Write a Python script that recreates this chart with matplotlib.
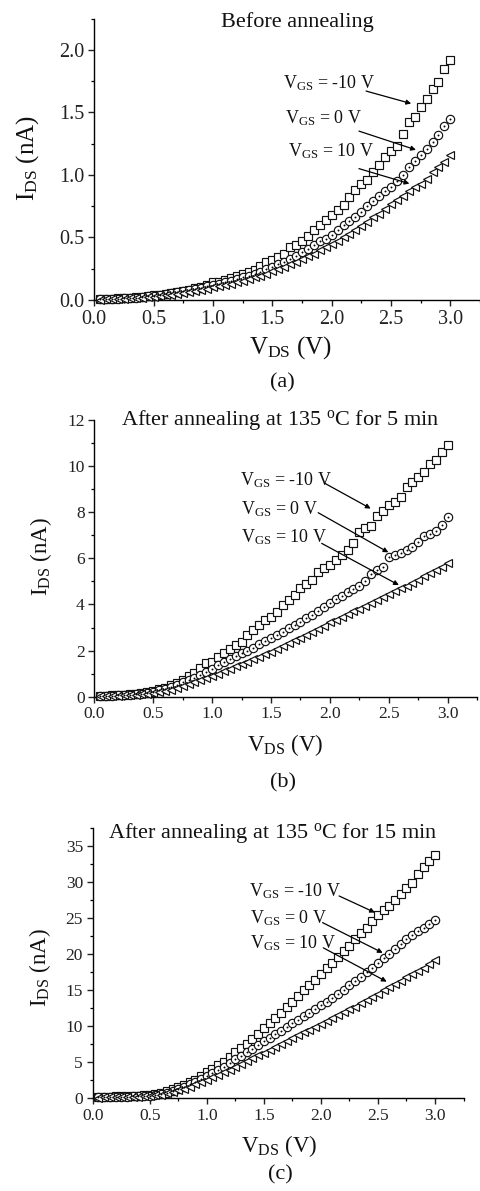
import matplotlib
matplotlib.use("Agg")
import matplotlib.pyplot as plt
from matplotlib.ticker import MultipleLocator, FormatStrFormatter

plt.rcParams['font.family'] = ['Liberation Serif', 'DejaVu Serif']
plt.rcParams['mathtext.fontset'] = 'custom'
plt.rcParams['mathtext.rm'] = 'Liberation Serif'
plt.rcParams['mathtext.it'] = 'Liberation Serif:italic'
plt.rcParams['mathtext.bf'] = 'Liberation Serif:bold'

# ---------------- data ----------------
vds = [0.05, 0.10, 0.15, 0.20, 0.25, 0.30, 0.35, 0.40, 0.45, 0.50,
       0.55, 0.60, 0.65, 0.70, 0.75, 0.80, 0.85, 0.90, 0.95, 1.00,
       1.05, 1.10, 1.15, 1.20, 1.25, 1.30, 1.35, 1.40, 1.45, 1.50,
       1.55, 1.60, 1.65, 1.70, 1.75, 1.80, 1.85, 1.90, 1.95, 2.00,
       2.05, 2.10, 2.15, 2.20, 2.25, 2.30, 2.35, 2.40, 2.45, 2.50,
       2.55, 2.60, 2.65, 2.70, 2.75, 2.80, 2.85, 2.90, 2.95, 3.00]

# (a) before annealing
a_m10 = [0.005, 0.008, 0.010, 0.012, 0.015, 0.018, 0.022, 0.026, 0.031, 0.036,
         0.042, 0.048, 0.055, 0.063, 0.072, 0.082, 0.093, 0.105, 0.118, 0.140,
         0.145, 0.160, 0.175, 0.195, 0.210, 0.225, 0.240, 0.270, 0.305, 0.320,
         0.340, 0.370, 0.420, 0.440, 0.470, 0.510, 0.560, 0.600, 0.640, 0.680,
         0.720, 0.760, 0.820, 0.880, 0.930, 0.960, 1.020, 1.080, 1.140, 1.190,
         1.230, 1.330, 1.420, 1.460, 1.540, 1.610, 1.690, 1.740, 1.850, 1.920]
a_0 = [0.004, 0.006, 0.008, 0.010, 0.012, 0.015, 0.019, 0.023, 0.028, 0.033,
       0.039, 0.045, 0.052, 0.060, 0.068, 0.077, 0.087, 0.097, 0.108, 0.120,
       0.130, 0.140, 0.155, 0.170, 0.180, 0.195, 0.210, 0.225, 0.245, 0.265,
       0.285, 0.305, 0.330, 0.355, 0.380, 0.405, 0.440, 0.470, 0.490, 0.520,
       0.560, 0.600, 0.630, 0.660, 0.700, 0.750, 0.790, 0.830, 0.870, 0.900,
       0.950, 1.000, 1.060, 1.110, 1.160, 1.210, 1.260, 1.320, 1.390, 1.450]
a_p10 = [0.003, 0.005, 0.007, 0.009, 0.011, 0.013, 0.016, 0.019, 0.023, 0.027,
         0.032, 0.037, 0.043, 0.049, 0.056, 0.064, 0.072, 0.081, 0.090, 0.100,
         0.110, 0.120, 0.130, 0.140, 0.155, 0.170, 0.180, 0.195, 0.210, 0.230,
         0.250, 0.265, 0.285, 0.305, 0.330, 0.350, 0.370, 0.400, 0.420, 0.450,
         0.470, 0.500, 0.530, 0.560, 0.590, 0.620, 0.660, 0.690, 0.730, 0.770,
         0.800, 0.830, 0.870, 0.900, 0.930, 0.970, 1.020, 1.060, 1.100, 1.160]

# (b) after annealing 5 min
b_m10 = [0.04, 0.05, 0.06, 0.07, 0.08, 0.10, 0.13, 0.16, 0.20, 0.25,
         0.32, 0.39, 0.50, 0.60, 0.72, 0.90, 1.04, 1.23, 1.45, 1.52,
         1.73, 1.88, 2.05, 2.24, 2.38, 2.67, 2.89, 3.10, 3.32, 3.47,
         3.68, 3.97, 4.19, 4.41, 4.70, 4.88, 5.06, 5.42, 5.56, 5.71,
         5.92, 6.14, 6.36, 6.68, 7.15, 7.30, 7.40, 7.83, 8.06, 8.30,
         8.45, 8.67, 9.10, 9.32, 9.54, 9.75, 10.10, 10.26, 10.62, 10.90]
b_0 = [0.03, 0.04, 0.05, 0.06, 0.07, 0.08, 0.10, 0.12, 0.16, 0.22,
       0.28, 0.35, 0.43, 0.52, 0.62, 0.72, 0.83, 0.95, 1.08, 1.22,
       1.36, 1.50, 1.64, 1.76, 1.88, 2.00, 2.12, 2.28, 2.40, 2.55,
       2.68, 2.82, 2.96, 3.12, 3.25, 3.40, 3.55, 3.72, 3.90, 4.08,
       4.22, 4.38, 4.52, 4.65, 4.82, 5.02, 5.30, 5.50, 5.64, 6.05,
       6.15, 6.25, 6.37, 6.50, 6.70, 6.95, 7.05, 7.20, 7.45, 7.78]
b_p10 = [0.02, 0.03, 0.04, 0.05, 0.06, 0.07, 0.08, 0.10, 0.12, 0.15,
         0.20, 0.25, 0.31, 0.38, 0.46, 0.54, 0.63, 0.72, 0.81, 0.90,
         1.00, 1.10, 1.20, 1.31, 1.42, 1.52, 1.63, 1.74, 1.85, 1.96,
         2.08, 2.20, 2.32, 2.44, 2.56, 2.68, 2.80, 2.92, 3.08, 3.22,
         3.34, 3.46, 3.58, 3.70, 3.82, 3.94, 4.06, 4.18, 4.32, 4.45,
         4.58, 4.70, 4.82, 4.95, 5.08, 5.22, 5.36, 5.50, 5.64, 5.82]

# (c) after annealing 15 min
c_m10 = [0.20, 0.22, 0.24, 0.26, 0.28, 0.30, 0.33, 0.36, 0.40, 0.45,
         0.55, 0.70, 0.95, 1.25, 1.55, 1.85, 2.20, 2.60, 3.10, 3.70,
         4.10, 4.60, 5.10, 5.80, 6.40, 7.00, 7.60, 8.30, 9.00, 9.70,
         10.4, 11.1, 11.8, 12.7, 13.4, 14.2, 15.0, 15.8, 16.5, 17.2,
         18.1, 18.8, 19.6, 20.4, 21.2, 22.1, 22.9, 23.6, 24.6, 25.4,
         26.1, 26.7, 27.5, 28.4, 29.2, 29.9, 31.2, 32.1, 33.0, 33.8]
c_0 = [0.15, 0.17, 0.19, 0.21, 0.23, 0.25, 0.28, 0.31, 0.34, 0.38,
       0.48, 0.62, 0.80, 1.02, 1.30, 1.60, 1.95, 2.30, 2.70, 3.10,
       3.50, 3.95, 4.40, 4.90, 5.40, 5.90, 6.40, 6.90, 7.40, 7.90,
       8.40, 8.90, 9.40, 9.90, 10.4, 10.9, 11.4, 11.9, 12.4, 12.9,
       13.4, 13.9, 14.5, 15.1, 15.7, 16.3, 16.9, 17.5, 18.1, 18.8,
       19.5, 20.1, 20.8, 21.5, 22.1, 22.7, 23.2, 23.7, 24.2, 24.7]
c_p10 = [0.10, 0.12, 0.14, 0.16, 0.18, 0.20, 0.22, 0.25, 0.28, 0.32,
         0.40, 0.52, 0.68, 0.88, 1.10, 1.35, 1.62, 1.92, 2.22, 2.55,
         2.90, 3.25, 3.60, 3.98, 4.36, 4.75, 5.15, 5.55, 5.95, 6.35,
         6.75, 7.15, 7.55, 7.95, 8.35, 8.75, 9.15, 9.55, 9.95, 10.35,
         10.75, 11.15, 11.55, 11.95, 12.35, 12.75, 13.20, 13.65, 14.10, 14.55,
         15.00, 15.45, 15.90, 16.35, 16.80, 17.25, 17.70, 18.15, 18.60, 19.15]

vgs_labels = [r'V$_{\mathrm{GS}}$ = -10 V', r'V$_{\mathrm{GS}}$ = 0 V', r'V$_{\mathrm{GS}}$ = 10 V']
titles = ['Before annealing',
          r'After annealing at 135 $^{\mathrm{o}}$C for 5 min',
          r'After annealing at 135 $^{\mathrm{o}}$C for 15 min']
panel_tags = ['(a)', '(b)', '(c)']

# ---------------- layout ----------------
W, H = 480, 1191
fig = plt.figure(figsize=(W / 100, H / 100), dpi=100)

panels = [
    dict(rect=[94.3, 18.5, 480.0, 300.0], ylim=(0, 2.25), ymaj=0.5, ymin=0.25, yfmt='%.1f',
         series=(a_m10, a_0, a_p10), tickfs=14.5, labfs=18,
         texts=[(1.59, 1.69), (1.61, 1.41), (1.63, 1.15)],
         arrows=[((2.29, 1.67), (2.67, 1.57)), ((2.23, 1.35), (2.71, 1.20)), ((2.23, 1.05), (2.655, 0.93))],
         title_xy=(297, 27.3), ylab_xy=(28, 158), xlab_xy=(291, 354), tag_xy=(282, 383)),
    dict(rect=[94.3, 420.0, 477.2, 696.7], ylim=(0, 12), ymaj=2, ymin=1, yfmt='%d',
         series=(b_m10, b_0, b_p10), tickfs=12.5, labfs=16.5,
         texts=[(1.237, 9.18), (1.245, 7.92), (1.245, 6.68)],
         arrows=[((1.958, 9.25), (2.346, 8.16)), ((1.90, 7.98), (2.496, 6.26)), ((1.93, 6.65), (2.585, 4.84))],
         title_xy=(280, 425), ylab_xy=(41, 557), xlab_xy=(285, 750.7), tag_xy=(283, 783)),
    dict(rect=[92.7, 828.3, 463.5, 1098.3], ylim=(0, 37.5), ymaj=5, ymin=2.5, yfmt='%d',
         series=(c_m10, c_0, c_p10), tickfs=12.5, labfs=16.5,
         texts=[(1.373, 28.05), (1.379, 24.3), (1.379, 20.9)],
         arrows=[((2.16, 28.1), (2.474, 25.8)), ((2.015, 24.4), (2.542, 20.2)), ((2.021, 20.9), (2.577, 16.2))],
         title_xy=(272.5, 838.3), ylab_xy=(40, 968), xlab_xy=(279, 1151.7), tag_xy=(280, 1175)),
]

for i, p in enumerate(panels):
    x0, y0, x1, y1 = p['rect']
    ax = fig.add_axes([x0 / W, 1 - y1 / H, (x1 - x0) / W, (y1 - y0) / H])
    ax.set_xlim(0, 3.25)
    ax.set_ylim(*p['ylim'])
    for s in ['top', 'right']:
        ax.spines[s].set_visible(False)
    for s in ['left', 'bottom']:
        ax.spines[s].set_linewidth(1.0)
    ax.xaxis.set_major_locator(MultipleLocator(0.5))
    ax.xaxis.set_minor_locator(MultipleLocator(0.25))
    ax.xaxis.set_major_formatter(FormatStrFormatter('%.1f'))
    ax.yaxis.set_major_locator(MultipleLocator(p['ymaj']))
    ax.yaxis.set_minor_locator(MultipleLocator(p['ymin']))
    ax.yaxis.set_major_formatter(FormatStrFormatter(p['yfmt']))
    ax.tick_params(which='major', direction='out', length=4, width=1.0,
                   labelsize=p['tickfs'], pad=3, colors='#222222')
    ax.tick_params(which='minor', direction='out', length=2.5, width=0.9)
    ax.tick_params(axis='both', labelcolor='#222222')

    sq, ci, tr = p['series']
    ax.plot(vds, sq, ls='none', marker='s', ms=5.6, mfc='white', mec='#111111', mew=0.85, clip_on=False, zorder=3)
    ax.plot(vds, ci, ls='none', marker='o', ms=6.0, mfc='white', mec='#111111', mew=0.85, clip_on=False, zorder=3)
    ax.plot(vds, ci, ls='none', marker='o', ms=1.4, mfc='black', mec='black', mew=0, clip_on=False, zorder=4)
    ax.plot(vds, tr, ls='none', marker='<', ms=6.3, mfc='white', mec='#111111', mew=0.85, clip_on=False, zorder=3)

    for lab, (tx, ty), (st, en) in zip(vgs_labels, p['texts'], p['arrows']):
        ax.text(tx, ty, lab, fontsize=13, ha='left', va='baseline', color='#111111')
        ax.annotate('', xy=en, xytext=st,
                    arrowprops=dict(arrowstyle='-|>', lw=0.9, color='black',
                                    mutation_scale=7, shrinkA=0, shrinkB=0))

    tx, ty = p['title_xy']
    fig.text(tx / W, 1 - ty / H, titles[i], fontsize=16, ha='center', va='baseline', color='#111111')
    lx, ly = p['ylab_xy']
    fig.text(lx / W, 1 - ly / H, r'I$_{\mathrm{DS}}$ (nA)', fontsize=p['labfs'], rotation=90,
             ha='center', va='center', color='#111111')
    xx, xy = p['xlab_xy']
    fig.text(xx / W, 1 - xy / H, r'V$_{\mathrm{DS}}$ (V)', fontsize=p['labfs'],
             ha='center', va='baseline', color='#111111')
    gx, gy = p['tag_xy']
    fig.text(gx / W, 1 - gy / H, panel_tags[i], fontsize=16, ha='center', va='center', color='#111111')

fig.savefig('out.png', dpi=100)
